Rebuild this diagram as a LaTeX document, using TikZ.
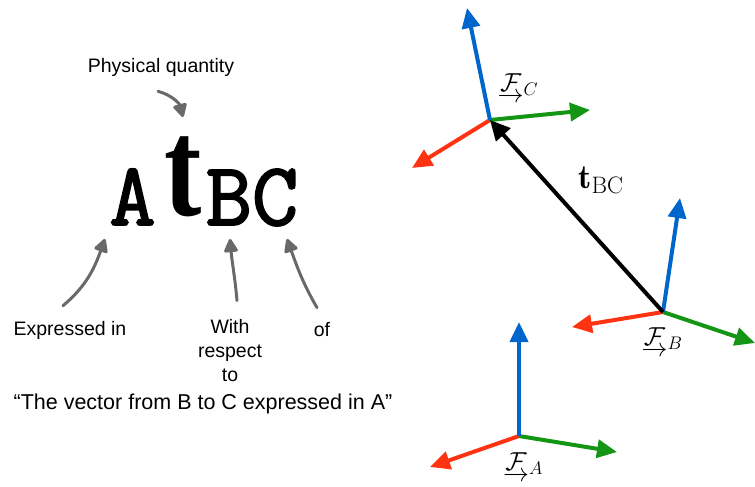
\RequirePackage{fix-cm}
\documentclass[tikz,border=0pt]{standalone}
\usepackage{amsmath}
\usepackage{fontspec}
\newfontfamily\notefont{Liberation Sans}
\newfontfamily\qtyfont{Liberation Serif}
\newfontfamily\typewfont{Latin Modern Mono}[FakeBold=2]
\usetikzlibrary{arrows.meta, calc}
\definecolor{axblue}{RGB}{0,102,204}
\definecolor{axgreen}{RGB}{20,150,20}
\definecolor{axred}{RGB}{255,51,17}
\definecolor{notegray}{RGB}{105,105,105}
\newcommand{\frm}[1]{$\underrightarrow{\mathcal{F}}_{#1}$}

\begin{document}
\begin{tikzpicture}[x=1pt, y=1pt,
  axis/.style={line width=4pt, -{Triangle[length=20pt,width=18pt]}},
  vec/.style={line width=4pt, black, -{Triangle[length=20pt,width=19pt]}},
  note/.style={line width=3pt, notegray, line cap=round,
               -{Triangle[length=15pt,width=15pt,round]}},
  lbl/.style={font=\notefont\fontsize{19.5}{24}\selectfont, inner sep=0pt, align=center},
  framelbl/.style={font=\fontsize{26}{28}\selectfont, inner sep=0pt},
  bigmono/.style={font=\typewfont\fontsize{90}{90}\selectfont, inner sep=0pt, anchor=base}]
\useasboundingbox (0,0) rectangle (755,-487);

% notation on the left
\node[bigmono] (subA) at (132.5,-225) {A};
\node[bigmono] (subBC) at (252,-225) {BC};
\node[inner sep=0pt, anchor=base, xscale=0.8,
      font=\qtyfont\bfseries\fontsize{140}{140}\selectfont] (qty) at (183.5,-215) {t};

\node[lbl] (phys) at (161,-67) {Physical quantity};
\node[lbl] (expr) at (70,-330) {Expressed in};
\node[lbl] (wrt) at (230,-351) {With\\respect\\to};
\node[lbl] (ofl) at (322,-330) {of};
\node[lbl, font=\notefont\fontsize{21.5}{24}\selectfont] (quote) at (203,-404)
  {“The vector from B to C expressed in A”};

\coordinate (tipQ) at (183,-117);
\coordinate (tipA) at (105,-239);
\coordinate (tipB) at (230,-239);
\coordinate (tipC) at (287,-239);
\draw[note] ([shift={(-3,-15)}]phys.south) to[out=-15,in=105] (tipQ);
\draw[note] ([shift={(-7,15)}]expr.north) to[out=40,in=-110] (tipA);
\draw[note] ([shift={(7,19)}]wrt.north) to[out=95,in=-85] (tipB);
\draw[note] ([shift={(-5,15)}]ofl.north) to[out=120,in=-70] (tipC);

% frames on the right
\coordinate (FA) at (519,-436);
\coordinate (FB) at (663,-312);
\coordinate (FC) at (490,-120);

\draw[axis, axred] (FC) -- (412,-168);
\draw[axis, axgreen] (FC) -- (590,-110);
\draw[axis, axblue] (FC) -- (467,-8);

\draw[axis, axred] (FB) -- (572,-327);
\draw[axis, axgreen] (FB) -- (755,-343);
\draw[axis, axblue] (FB) -- (680,-198);

\draw[axis, axred] (FA) -- (430,-467);
\draw[axis, axgreen] (FA) -- (617,-452);
\draw[axis, axblue] (FA) -- (519,-322);

\draw[vec] (FB) -- (FC);

\node[framelbl] (lblC) at (518,-88) {\frm{C}};
\node[framelbl] (lblB) at (662,-342) {\frm{B}};
\node[framelbl] (lblA) at (523,-467) {\frm{A}};
\node[inner sep=0pt, font=\fontsize{34}{36}\selectfont] (lblT) at (601,-180)
  {$\mathbf{t}_{\mathrm{BC}}$};
\end{tikzpicture}
\end{document}
